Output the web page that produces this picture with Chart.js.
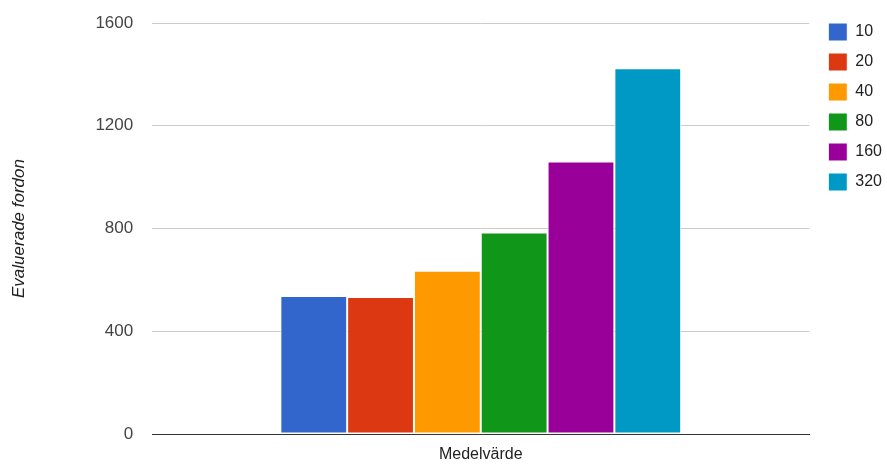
<!DOCTYPE html>
<html>
<head>
<meta charset="utf-8">
<script src="https://cdn.jsdelivr.net/npm/chart.js@4/dist/chart.umd.min.js"></script>
<style>
html,body{margin:0;padding:0;background:#fff;}
#wrap{width:887px;height:464px;position:relative;}
</style>
</head>
<body>
<div id="wrap"><canvas id="c" width="887" height="464"></canvas></div>
<script>
const categories = ["Medelvärde"];
const seriesNames = ["10", "20", "40", "80", "160", "320"];
const seriesValues = [537, 533, 636, 784, 1061, 1424];
const seriesColors = ["#3366cc", "#dc3912", "#ff9900", "#109618", "#990099", "#0099c6"];
const yTicks = [0, 400, 800, 1200, 1600];
const yTitle = "Evaluerade fordon";

Chart.defaults.font.family = "'Liberation Sans', Arial, sans-serif";

const datasets = seriesNames.map((n, i) => ({
  label: n,
  data: [seriesValues[i]],
  backgroundColor: seriesColors[i],
  borderColor: "#ffffff",
  borderWidth: 1,
  borderSkipped: false
}));

const legendShift = {
  id: "legendShift",
  afterLayout(chart) {
    const l = chart.legend;
    if (l) { l.left += 7; l.right += 7; l.top -= 12; l.bottom -= 12; }
  }
};

new Chart(document.getElementById("c"), {
  type: "bar",
  data: { labels: categories, datasets },
  plugins: [legendShift],
  options: {
    responsive: false,
    animation: false,
    layout: { padding: { top: 23, right: 2, left: 9, bottom: 0 } },
    datasets: { bar: { categoryPercentage: 0.61, barPercentage: 1.0 } },
    plugins: {
      legend: {
        position: "right",
        align: "start",
        labels: {
          boxWidth: 19, boxHeight: 18, padding: 12,
          color: "#222", font: { size: 16 }
        }
      },
      tooltip: { enabled: false }
    },
    scales: {
      x: {
        grid: { display: false, drawTicks: false },
        border: { display: true, color: "#333", width: 1 },
        ticks: { color: "#222", font: { size: 16 }, padding: 11 },
        afterFit: s => { s.height = 30; }
      },
      y: {
        min: 0, max: 1600,
        afterBuildTicks: s => { s.ticks = yTicks.map(v => ({ value: v })); },
        afterFit: s => { s.paddingTop = 0; s.paddingBottom = 0; },
        grid: { color: "#cccccc", drawTicks: false },
        border: { display: false },
        ticks: { color: "#444", font: { size: 17 }, padding: 19, callback: v => String(v) },
        title: { display: true, text: yTitle, color: "#222", font: { size: 17, style: "italic" }, padding: { top: 0, bottom: 47 } }
      }
    }
  }
});
</script>
</body>
</html>
